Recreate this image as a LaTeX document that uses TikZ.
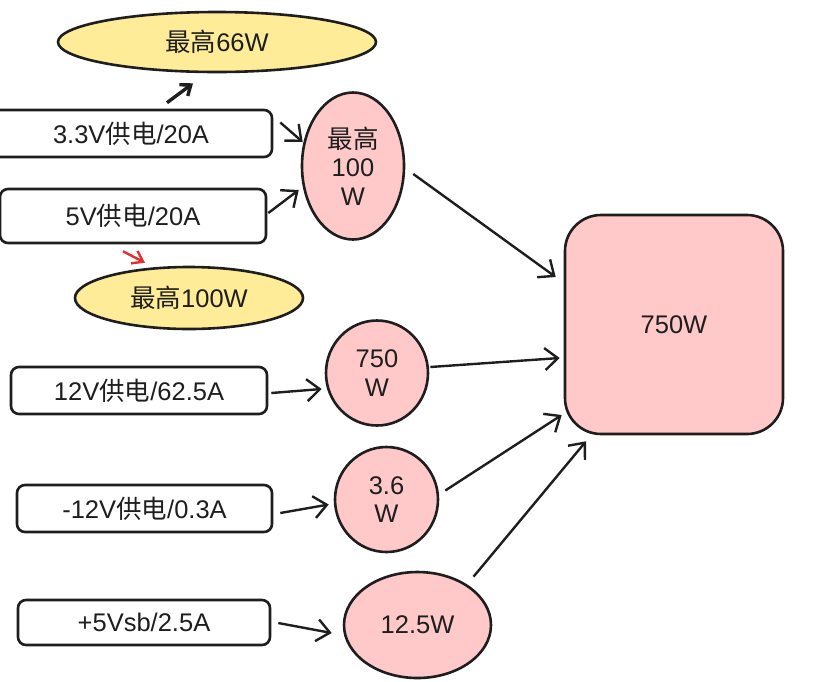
\documentclass[tikz,border=0pt]{standalone}
\usepackage{fontspec}
\setmainfont{Liberation Sans}
\newfontfamily\cjk{Noto Sans CJK SC}
\usetikzlibrary{shapes.geometric,arrows.meta,calc}
\definecolor{ink}{HTML}{1E1E1E}
\definecolor{yel}{HTML}{FFEC99}
\definecolor{pnk}{HTML}{FFC9C9}
\definecolor{redarr}{HTML}{E03131}
\tikzset{
  base/.style={draw=ink, line width=2.6pt, text=ink, font=\fontsize{25.5}{28.5}\selectfont, inner sep=0pt},
  srcbox/.style={base, rectangle, rounded corners=8pt, fill=white},
  yell/.style={base, ellipse, fill=yel},
  pell/.style={base, ellipse, fill=pnk, align=center},
  bigbox/.style={base, rectangle, rounded corners=36pt, fill=pnk},
  arr/.style={draw=ink, line width=2.4pt, -{Straight Barb[length=13pt,width=22pt,line width=2.4pt]}},
}
\begin{document}
\begin{tikzpicture}[x=1pt,y=-1pt]
\useasboundingbox (0,0) rectangle (818,681);
% yellow ellipses
\node[yell, minimum width=318, minimum height=60] (y66) at (217,42) {{\cjk 最高}66W};
\node[yell, minimum width=228, minimum height=62] (y100) at (189,298) {{\cjk 最高}100W};
% source boxes
\node[srcbox, minimum width=282, minimum height=47] (b33) at (131,133.5) {3.3V{\cjk 供电}/20A};
\node[srcbox, minimum width=266, minimum height=54] (b5) at (133,216) {5V{\cjk 供电}/20A};
\node[srcbox, minimum width=256, minimum height=47] (b12) at (139,390.5) {12V{\cjk 供电}/62.5A};
\node[srcbox, minimum width=255, minimum height=47] (bm12) at (144.5,508.5) {-12V{\cjk 供电}/0.3A};
\node[srcbox, minimum width=252, minimum height=45] (b5sb) at (144,622.5) {+5Vsb/2.5A};
% pink ellipses
\node[pell, minimum width=102, minimum height=147] (p100) at (353,166) {{\cjk 最高}\\100\\W};
\node[pell, minimum width=102, minimum height=105] (c750) at (377,373) {750\\W};
\node[pell, minimum width=103, minimum height=105] (c36) at (386.5,499.5) {3.6\\W};
\node[pell, minimum width=147, minimum height=106] (e125) at (417.5,625) {12.5W};
% big box
\node[bigbox, minimum width=218, minimum height=219] (big) at (674,324.5) {750W};
% arrows
\draw[arr, line width=3.4pt, -{Straight Barb[length=9pt,width=14pt,line width=3.4pt]}] ($(b33.north)+(36,-6)$) -- ($(y66.south)+(-24,10)$);
\draw[arr] ($(b33.east)+(7,-11)$) -- ($(p100.west)+(2,-24)$);
\draw[arr] ($(b5.east)+(1,-3)$) -- ($(p100.west)+(-2,24)$);
\draw[arr, draw=redarr, -{Straight Barb[length=10pt,width=14pt,line width=2.4pt]}] ($(b5.south)+(-10,7)$) -- ($(y100.north)+(-44,-3)$);
\draw[arr] ($(p100.east)+(8,8)$) -- ($(big.west)+(-8,-47.5)$);
\draw[arr] ($(c750.east)+(1,-6)$) -- ($(big.west)+(-4,33.5)$);
\draw[arr] ($(c36.east)+(6,-9)$) -- ($(big.west)+(-2,90.5)$);
\draw[arr] ($(e125.north)+(56,6)$) -- ($(big.south)+(-88,6)$);
\draw[arr] ($(b12.east)+(3,2.5)$) -- ($(c750.west)+(-3,16)$);
\draw[arr] ($(bm12.east)+(7,4.5)$) -- ($(c36.west)+(-5,5)$);
\draw[arr] ($(b5sb.east)+(7,0.5)$) -- ($(e125.west)+(-11,8)$);
\end{tikzpicture}
\end{document}
